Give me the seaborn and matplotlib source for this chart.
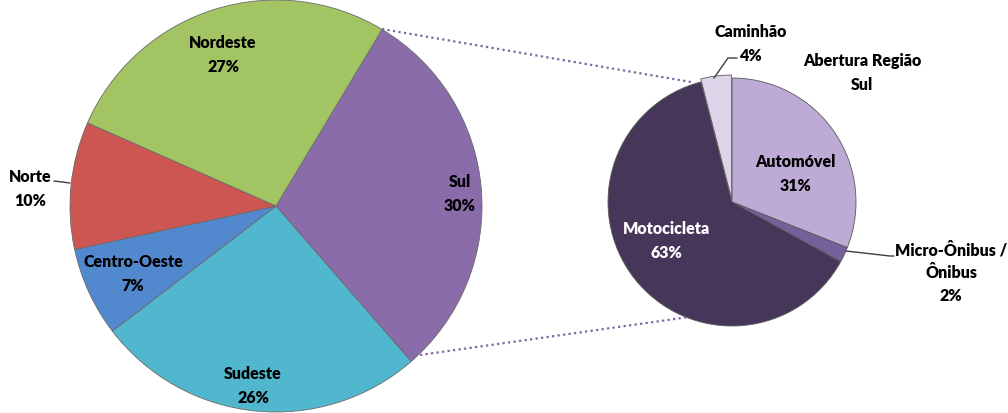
import matplotlib
matplotlib.use("Agg")
import matplotlib.pyplot as plt
import seaborn as sns

# ---- data ----
regions = ["Sul", "Sudeste", "Centro-Oeste", "Norte", "Nordeste"]
region_pct = [30, 26, 7, 10, 27]
region_colors = ["#8A6CAA", "#50B7CF", "#5289CE", "#CD5652", "#A3C463"]

vehicles = ["Automóvel", "Micro-Ônibus /\nÔnibus", "Motocicleta", "Caminhão"]
vehicle_pct = [31, 2, 63, 4]
vehicle_colors = ["#BDAAD5", "#76609C", "#46375A", "#DDD4E9"]

title_text = "Abertura Região\nSul"

sns.set_theme(style="white")
plt.rcParams['font.family'] = ['Lato', 'DejaVu Sans']

W, H = 1008, 414
fig = plt.figure(figsize=(W / 100, H / 100), dpi=100)
ax = fig.add_axes([0, 0, 1, 1])


def Y(y):
    return H - y


# main pie
main_c = (276, Y(207))
main_r = 206
w1, _ = ax.pie(region_pct, colors=region_colors, startangle=59, counterclock=False,
               center=main_c, radius=main_r,
               wedgeprops=dict(edgecolor="#6a6a6a", linewidth=0.6))
# second pie
sub_c = (732, Y(203))
sub_r = 124
w2, _ = ax.pie(vehicle_pct, colors=vehicle_colors, startangle=90, counterclock=False,
               center=sub_c, radius=sub_r, explode=[0, 0, 0, 3],
               wedgeprops=dict(edgecolor="#5a5a5a", linewidth=0.6))

# connecting dotted lines
ax.plot([382, 691], [Y(30), Y(83)], ls=(0, (1, 1.5)), color="#7E64A0", lw=1.6)
ax.plot([420, 689], [Y(356), Y(318)], ls=(0, (1, 1.5)), color="#7E64A0", lw=1.6)

fs = 11.5
kw = dict(ha="center", va="center", fontsize=fs, fontweight="heavy", linespacing=1.55)

ax.text(223, Y(55), f"{regions[4]}\n{region_pct[4]}%", color="black", **kw)
ax.text(460, Y(194), f"{regions[0]}\n{region_pct[0]}%", color="black", **kw)
ax.text(30, Y(189), f"{regions[3]}\n{region_pct[3]}%", color="black", **kw)
ax.plot([54, 70], [Y(182), Y(184)], color="#404040", lw=1)
ax.text(133, Y(274), f"{regions[2]}\n{region_pct[2]}%", color="black", **kw)
ax.text(253, Y(386), f"{regions[1]}\n{region_pct[1]}%", color="black", **kw)

ax.text(751, Y(44), f"{vehicles[3]}\n{vehicle_pct[3]}%", color="black", **kw)
ax.plot([737, 728, 714], [Y(59), Y(59), Y(79)], color="#404040", lw=1)
ax.text(795, Y(174), f"{vehicles[0]}\n{vehicle_pct[0]}%", color="black", **kw)
ax.text(666, Y(241), f"{vehicles[2]}\n{vehicle_pct[2]}%", color="white", **kw)
ax.text(951, Y(273), f"{vehicles[1]}\n{vehicle_pct[1]}%", color="black", **kw)
ax.plot([846, 890, 894], [Y(252), Y(257), Y(257)], color="#404040", lw=1)

ax.text(862, Y(73), title_text, color="black", **kw)

ax.set_xlim(0, W)
ax.set_ylim(0, H)
ax.set_aspect("equal")
ax.axis("off")

fig.savefig("out.png", dpi=100, facecolor="white")
